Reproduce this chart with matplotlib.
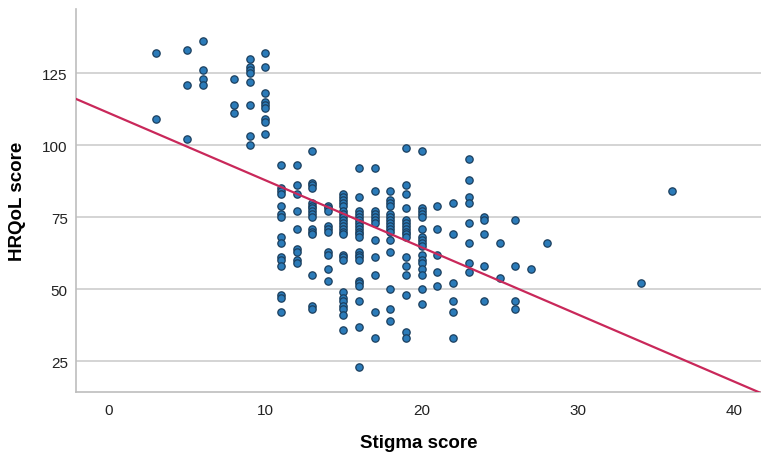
import numpy as np
import matplotlib
matplotlib.use("Agg")
import matplotlib.pyplot as plt

plt.rcParams["font.family"] = ["Liberation Sans", "DejaVu Sans"]

# stigma score -> list of HRQoL scores
points = {
    3: [132, 109],
    5: [133, 121, 102],
    6: [136, 126, 123, 121],
    8: [123, 114, 111],
    9: [130, 127, 126, 125, 122, 114, 103, 100],
    10: [132, 127, 118, 115, 114, 113, 109, 108, 104],
    11: [93, 85, 84, 83, 79, 76, 75, 68, 66, 61, 60, 58, 48, 47, 42],
    12: [93, 86, 83, 77, 71, 64, 63, 60, 59],
    13: [98, 87, 86, 85, 80, 79, 78, 77, 76, 75, 71, 70, 69, 55, 44, 43],
    14: [79, 78, 77, 72, 71, 70, 63, 62, 57, 53],
    15: [83, 82, 81, 80, 79, 77, 76, 75, 74, 73, 72, 71, 70, 69, 62, 61, 60,
         49, 47, 46, 44, 43, 41, 36],
    16: [92, 82, 77, 76, 75, 74, 73, 72, 71, 70, 69, 68, 63, 62, 61, 60,
         53, 52, 51, 46, 37, 23],
    17: [92, 84, 77, 76, 75, 74, 73, 67, 61, 55, 42, 33],
    18: [84, 81, 80, 79, 76, 75, 74, 73, 72, 71, 70, 67, 63, 50, 43, 39],
    19: [99, 86, 83, 78, 74, 73, 72, 71, 70, 69, 68, 61, 58, 55, 48, 35, 33],
    20: [98, 78, 77, 76, 75, 71, 68, 67, 66, 65, 62, 60, 59, 57, 55, 50, 45],
    21: [79, 71, 62, 56, 51],
    22: [80, 69, 52, 46, 42, 33],
    23: [95, 88, 82, 80, 73, 66, 59, 56],
    24: [75, 74, 69, 58, 46],
    25: [66, 54],
    26: [74, 58, 46, 43],
    27: [57],
    28: [66],
    34: [52],
    36: [84],
}

stigma = []
hrqol = []
for k, vals in points.items():
    stigma += [k] * len(vals)
    hrqol += vals
stigma = np.array(stigma)
hrqol = np.array(hrqol)

# fit line as drawn in the figure
fit_intercept = 111.1
fit_slope = -2.33

x_ticks = [0, 10, 20, 30, 40]
y_ticks = [25, 50, 75, 100, 125]

fig = plt.figure(figsize=(7.61, 4.56), dpi=100)
ax = fig.add_axes([0.1, 0.138, 0.9, 0.84])

ax.set_xlim(-2.1, 41.7)
ax.set_ylim(14.3, 147.2)

for y in y_ticks:
    ax.axhline(y, color="#d4d4d4", lw=1.4, zorder=0)

ax.scatter(stigma, hrqol, s=28, c="#2b7bb9", edgecolors="#1b3f5e",
           linewidths=0.9, zorder=3)

xs = np.array(ax.get_xlim())
ax.plot(xs, fit_intercept + fit_slope * xs, color="#c9285a", lw=1.6,
        zorder=4, clip_on=True)

ax.set_xticks(x_ticks)
ax.set_yticks(y_ticks)
ax.tick_params(length=0, labelsize=11, colors="#222222")
ax.tick_params(axis="x", pad=8)
ax.tick_params(axis="y", pad=6)

for s in ["top", "right"]:
    ax.spines[s].set_visible(False)
for s in ["left", "bottom"]:
    ax.spines[s].set_color("#bdbdbd")
    ax.spines[s].set_linewidth(1.2)

ax.set_xlabel("Stigma score", fontsize=13.5, fontweight="bold", labelpad=12)
ax.set_ylabel("HRQoL score", fontsize=13.5, fontweight="bold", labelpad=12)

fig.savefig("out.png", dpi=100)
